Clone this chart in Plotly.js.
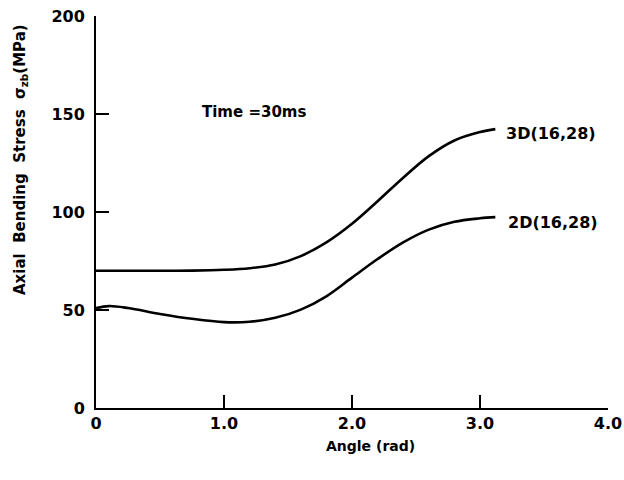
<!DOCTYPE html>
<html>
<head>
<meta charset="utf-8">
<script src="https://cdn.plot.ly/plotly-3.0.1.min.js"></script>
<style>
  html, body { margin: 0; padding: 0; background: #fff; }
  #chart { width: 624px; height: 480px; }
</style>
</head>
<body>
<div id="chart"></div>
<script>
// Axial bending stress vs. angle at t = 30 ms
const angle = [0, 0.1, 0.25, 0.5, 0.75, 1.0, 1.2, 1.4, 1.6, 1.8, 2.0, 2.2, 2.4, 2.6, 2.8, 3.0, 3.12];
const stress3D = [70, 70, 70, 70, 70.1, 70.5, 71.3, 73.2, 77.5, 84.5, 94, 105.5, 117.5, 128.5, 136.5, 140.8, 142.3];
const stress2D = [51, 52, 51, 48, 45.5, 43.8, 44, 46, 50.2, 57, 66.5, 76, 84.5, 91, 95, 96.8, 97.4];
const seriesNames = ["3D(16,28)", "2D(16,28)"];
const xTicks = [0, 1, 2, 3, 4];
const xTickText = ["0", "1.0", "2.0", "3.0", "4.0"];
const yTicks = [0, 50, 100, 150, 200];

const fam = "DejaVu Sans, sans-serif";
const lineStyle = { color: "#000", width: 2.6, shape: "spline", smoothing: 1 };
const bold = (size) => ({ family: fam, size: size, color: "#000", weight: "bold" });

const traces = [
  { x: angle, y: stress3D, name: seriesNames[0], mode: "lines", line: lineStyle },
  { x: angle, y: stress2D, name: seriesNames[1], mode: "lines", line: lineStyle }
];

const last = angle.length - 1;

const axisCommon = {
  ticks: "inside",
  ticklen: 13,
  tickwidth: 1.6,
  tickcolor: "#000",
  showline: true,
  linecolor: "#000",
  linewidth: 2,
  showgrid: false,
  zeroline: false,
  tickfont: bold(16)
};

const layout = {
  width: 624,
  height: 480,
  margin: { l: 96, r: 16, t: 16, b: 72 },
  paper_bgcolor: "#fff",
  plot_bgcolor: "#fff",
  showlegend: false,
  font: { family: fam, color: "#000", size: 15 },
  xaxis: Object.assign({ range: [0, 4], tickvals: xTicks, ticktext: xTickText, ticklabelstandoff: 0 }, axisCommon),
  yaxis: Object.assign({ range: [0, 200], tickvals: yTicks, ticklabelstandoff: 6 }, axisCommon),
  annotations: [
    {
      text: "Angle (rad)", xref: "paper", yref: "paper",
      x: (370 - 96) / 512, y: -(446 - 408) / 392, xanchor: "center", yanchor: "middle",
      showarrow: false, font: bold(14)
    },
    {
      text: "Axial  Bending  Stress  σ<sub>zb</sub>(MPa)", xref: "paper", yref: "paper",
      x: -(96 - 20) / 512, y: (408 - 160) / 392, xanchor: "center", yanchor: "middle",
      textangle: -90, showarrow: false, font: bold(15)
    },
    {
      text: "Time =30ms", xref: "x", yref: "y", x: 0.81, y: 151,
      xanchor: "left", yanchor: "middle", showarrow: false, font: bold(15)
    },
    {
      text: seriesNames[0], xref: "x", yref: "y", x: angle[last] + 0.07, y: stress3D[last] - 2.5,
      xanchor: "left", yanchor: "middle", showarrow: false, font: bold(16)
    },
    {
      text: seriesNames[1], xref: "x", yref: "y", x: angle[last] + 0.08, y: stress2D[last] - 3,
      xanchor: "left", yanchor: "middle", showarrow: false, font: bold(16)
    }
  ]
};

Plotly.newPlot("chart", traces, layout, { displayModeBar: false, staticPlot: true });
</script>
</body>
</html>
